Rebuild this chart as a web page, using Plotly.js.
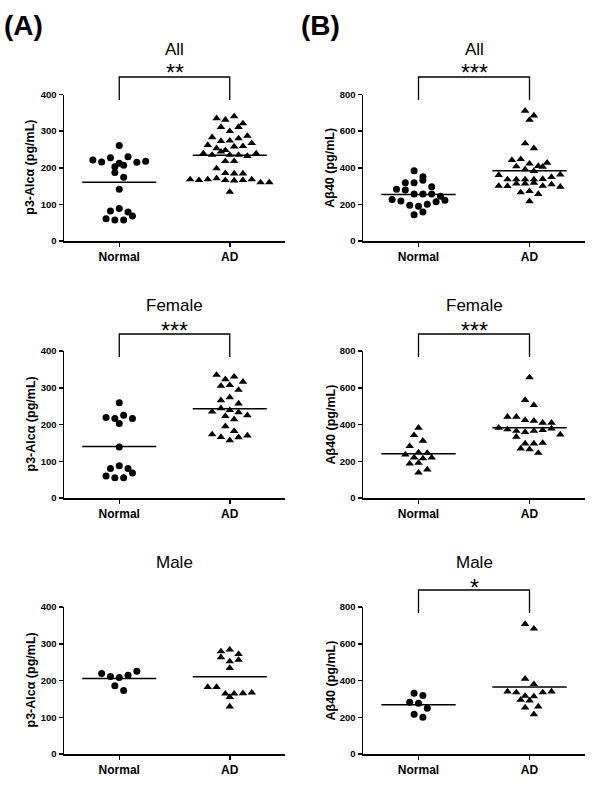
<!DOCTYPE html>
<html><head><meta charset="utf-8">
<script src="https://cdn.plot.ly/plotly-3.0.1.min.js"></script>
<style>html,body{margin:0;padding:0;background:#fff}#chart{width:600px;height:800px}</style>
</head><body><div id="chart"></div>
<script>
// ---------- data ----------
const categories = ['Normal', 'AD'];
const panelTitles = ['All', 'All', 'Female', 'Female', 'Male', 'Male'];
const panelLetters = ['(A)', '(B)'];
const yAxisTitles = ['p3-Alc\u03b1 (pg/mL)', 'A\u03b240 (pg/mL)'];
const yTicksA = [0, 100, 200, 300, 400];
const yTicksB = [0, 200, 400, 600, 800];
const significance = ['**', '***', '***', '***', '', '*'];

const aAllNormal = [261,221,216,227,212,230,203,207,215,218,187,174,141,82,89,79,61,57,57,68];
const aAllAD = [335,331,340,321,311,300,311,283,273,274,280,287,262,253,248,258,259,267,239,235,244,235,235,232,239,218,218,198,185,184,184,168,166,168,171,166,165,166,168,160,160,134];
const bAllNormal = [384,351,318,318,332,283,296,278,256,256,256,245,226,219,195,190,201,214,223,144,159];
const bAllAD = [711,685,661,533,506,442,447,422,407,391,382,405,409,427,360,336,336,336,336,338,349,363,301,300,314,314,318,301,309,265,272,296,256,217];
const aFemNormal = [259,219,216,225,216,203,139,80,88,80,60,55,55,68];
const aFemAD = [335,323,330,316,305,307,294,266,274,257,235,244,239,233,225,223,214,195,182,173,166,157,165,170];
const bFemNormal = [382,342,311,282,247,245,236,220,215,220,187,191,138,155];
const bFemAD = [656,533,505,442,442,424,420,409,409,382,373,365,358,365,369,378,345,333,296,296,300,269,265,245];
const aMaleNormal = [219,211,208,214,225,186,173];
const aMaleAD = [279,284,272,263,252,256,234,182,182,164,164,155,165,167,129];
const bMaleNormal = [331,318,282,276,249,216,200];
const bMaleAD = [707,682,409,380,340,335,316,295,291,313,335,340,258,253,216];

// ---------- layout geometry (pixels) ----------
const W = 600, H = 800;
const colX = [[64, 285], [363, 585]];
const rowY = [[94.5, 241], [351, 498], [607, 754]];
const titleY = [49, 305, 562];
const starsY = [73, 331, 588];
const bracketTopY = [77, 334, 590];
const bracketDrop = 23;
const normalSymbols = ['circle', 'circle', 'circle', 'triangle-up', 'circle', 'circle'];

const panels = [
  {n: aAllNormal, ad: aAllAD}, {n: bAllNormal, ad: bAllAD},
  {n: aFemNormal, ad: aFemAD}, {n: bFemNormal, ad: bFemAD},
  {n: aMaleNormal, ad: aMaleAD}, {n: bMaleNormal, ad: bMaleAD}
];

function mean(a) { return a.reduce((s, v) => s + v, 0) / a.length; }

// scatter-dot layout: values grouped in rows about one marker high, each row centred
function rowLayout(vals, pxY, pxX, thr, sp) {
  const order = vals.map((v, i) => i).sort((a, b) => vals[b] - vals[a] || a - b);
  const rows = [];
  let cur = null;
  order.forEach(i => {
    if (!cur || (vals[cur.top] - vals[i]) * pxY > thr) { cur = {top: i, items: []}; rows.push(cur); }
    cur.items.push(i);
  });
  const out = new Array(vals.length);
  rows.forEach(r => {
    const items = r.items.slice().sort((a, b) => a - b);
    const n = items.length;
    items.forEach((idx, j) => { out[idx] = (j - (n - 1) / 2) * sp / pxX; });
  });
  return out;
}

const font = 'Arial, "Liberation Sans", sans-serif';
const traces = [], shapes = [], annotations = [];
const layout = {
  width: W, height: H, margin: {l: 0, r: 0, t: 0, b: 0},
  paper_bgcolor: '#fff', plot_bgcolor: '#fff', showlegend: false,
  shapes, annotations
};

panels.forEach((p, i) => {
  const col = i % 2, row = Math.floor(i / 2);
  const xs = colX[col], ys = rowY[row];
  const sfx = i === 0 ? '' : String(i + 1);
  const xa = 'x' + sfx, ya = 'y' + sfx;
  const yTicks = col === 0 ? yTicksA : yTicksB;
  const yMax = yTicks[yTicks.length - 1];
  const pxY = (ys[1] - ys[0]) / yMax;
  const pxX = (xs[1] - xs[0]) / 2;
  const groups = [p.n, p.ad];
  const syms = [normalSymbols[i], 'triangle-up'];

  groups.forEach((vals, g) => {
    const off = rowLayout(vals, pxY, pxX, 7, 8.8);
    traces.push({
      type: 'scatter', mode: 'markers', xaxis: xa, yaxis: ya, cliponaxis: false,
      x: vals.map((v, k) => g + off[k]), y: vals,
      marker: {symbol: syms[g], color: '#000', size: syms[g] === 'circle' ? 7 : 7.5, line: {width: 0}},
      hoverinfo: 'y'
    });
    const m = mean(vals);
    shapes.push({type: 'line', xref: xa, yref: ya, x0: g - 0.335, x1: g + 0.335, y0: m, y1: m,
      line: {color: '#000', width: 1.5}});
  });

  layout['xaxis' + sfx] = {
    domain: [xs[0] / W, xs[1] / W], anchor: ya, range: [-0.5, 1.5],
    tickvals: [0, 1], ticktext: categories, ticks: 'outside', ticklen: 4, tickwidth: 1.5,
    tickcolor: '#000', showline: true, linecolor: '#000', linewidth: 1.5,
    showgrid: false, zeroline: false, fixedrange: true,
    tickfont: {family: font, size: 12, color: '#000', weight: 700}
  };
  layout['yaxis' + sfx] = {
    domain: [1 - ys[1] / H, 1 - ys[0] / H], anchor: xa, range: [0, yMax],
    tickvals: yTicks, ticks: 'outside', ticklen: 4, tickwidth: 1.5,
    tickcolor: '#000', showline: true, linecolor: '#000', linewidth: 1.5,
    showgrid: false, zeroline: false, fixedrange: true,
    tickfont: {family: font, size: 9.5, color: '#000', weight: 700}
  };

  annotations.push({xref: xa, yref: 'paper', x: 0.5, y: 1 - titleY[row] / H, text: panelTitles[i],
    showarrow: false, xanchor: 'center', yanchor: 'middle', font: {family: font, size: 17, color: '#000'}});
  if (significance[i]) {
    const yt = 1 - bracketTopY[row] / H, yb = 1 - (bracketTopY[row] + bracketDrop) / H;
    shapes.push({type: 'path', xref: xa, yref: 'paper',
      path: `M 0,${yb} L 0,${yt} L 1,${yt} L 1,${yb}`, line: {color: '#000', width: 1.3}});
    annotations.push({xref: xa, yref: 'paper', x: 0.5, y: 1 - starsY[row] / H, text: significance[i],
      showarrow: false, xanchor: 'center', yanchor: 'middle', font: {family: font, size: 23, color: '#000'}});
  }
  annotations.push({xref: 'paper', yref: 'paper', x: (col === 0 ? 30 : 330) / W,
    y: 1 - (ys[0] + ys[1]) / 2 / H, text: yAxisTitles[col], textangle: -90,
    showarrow: false, xanchor: 'center', yanchor: 'middle', font: {family: font, size: 12.5, color: '#000', weight: 700}});
});

panelLetters.forEach((t, c) => {
  annotations.push({xref: 'paper', yref: 'paper', x: (c === 0 ? 2 : 299) / W, y: 1 - 26 / H, text: t,
    showarrow: false, xanchor: 'left', yanchor: 'middle', font: {family: font, size: 28, color: '#000', weight: 700}});
});

Plotly.newPlot('chart', traces, layout, {staticPlot: true, displayModeBar: false});
</script>
</body></html>
